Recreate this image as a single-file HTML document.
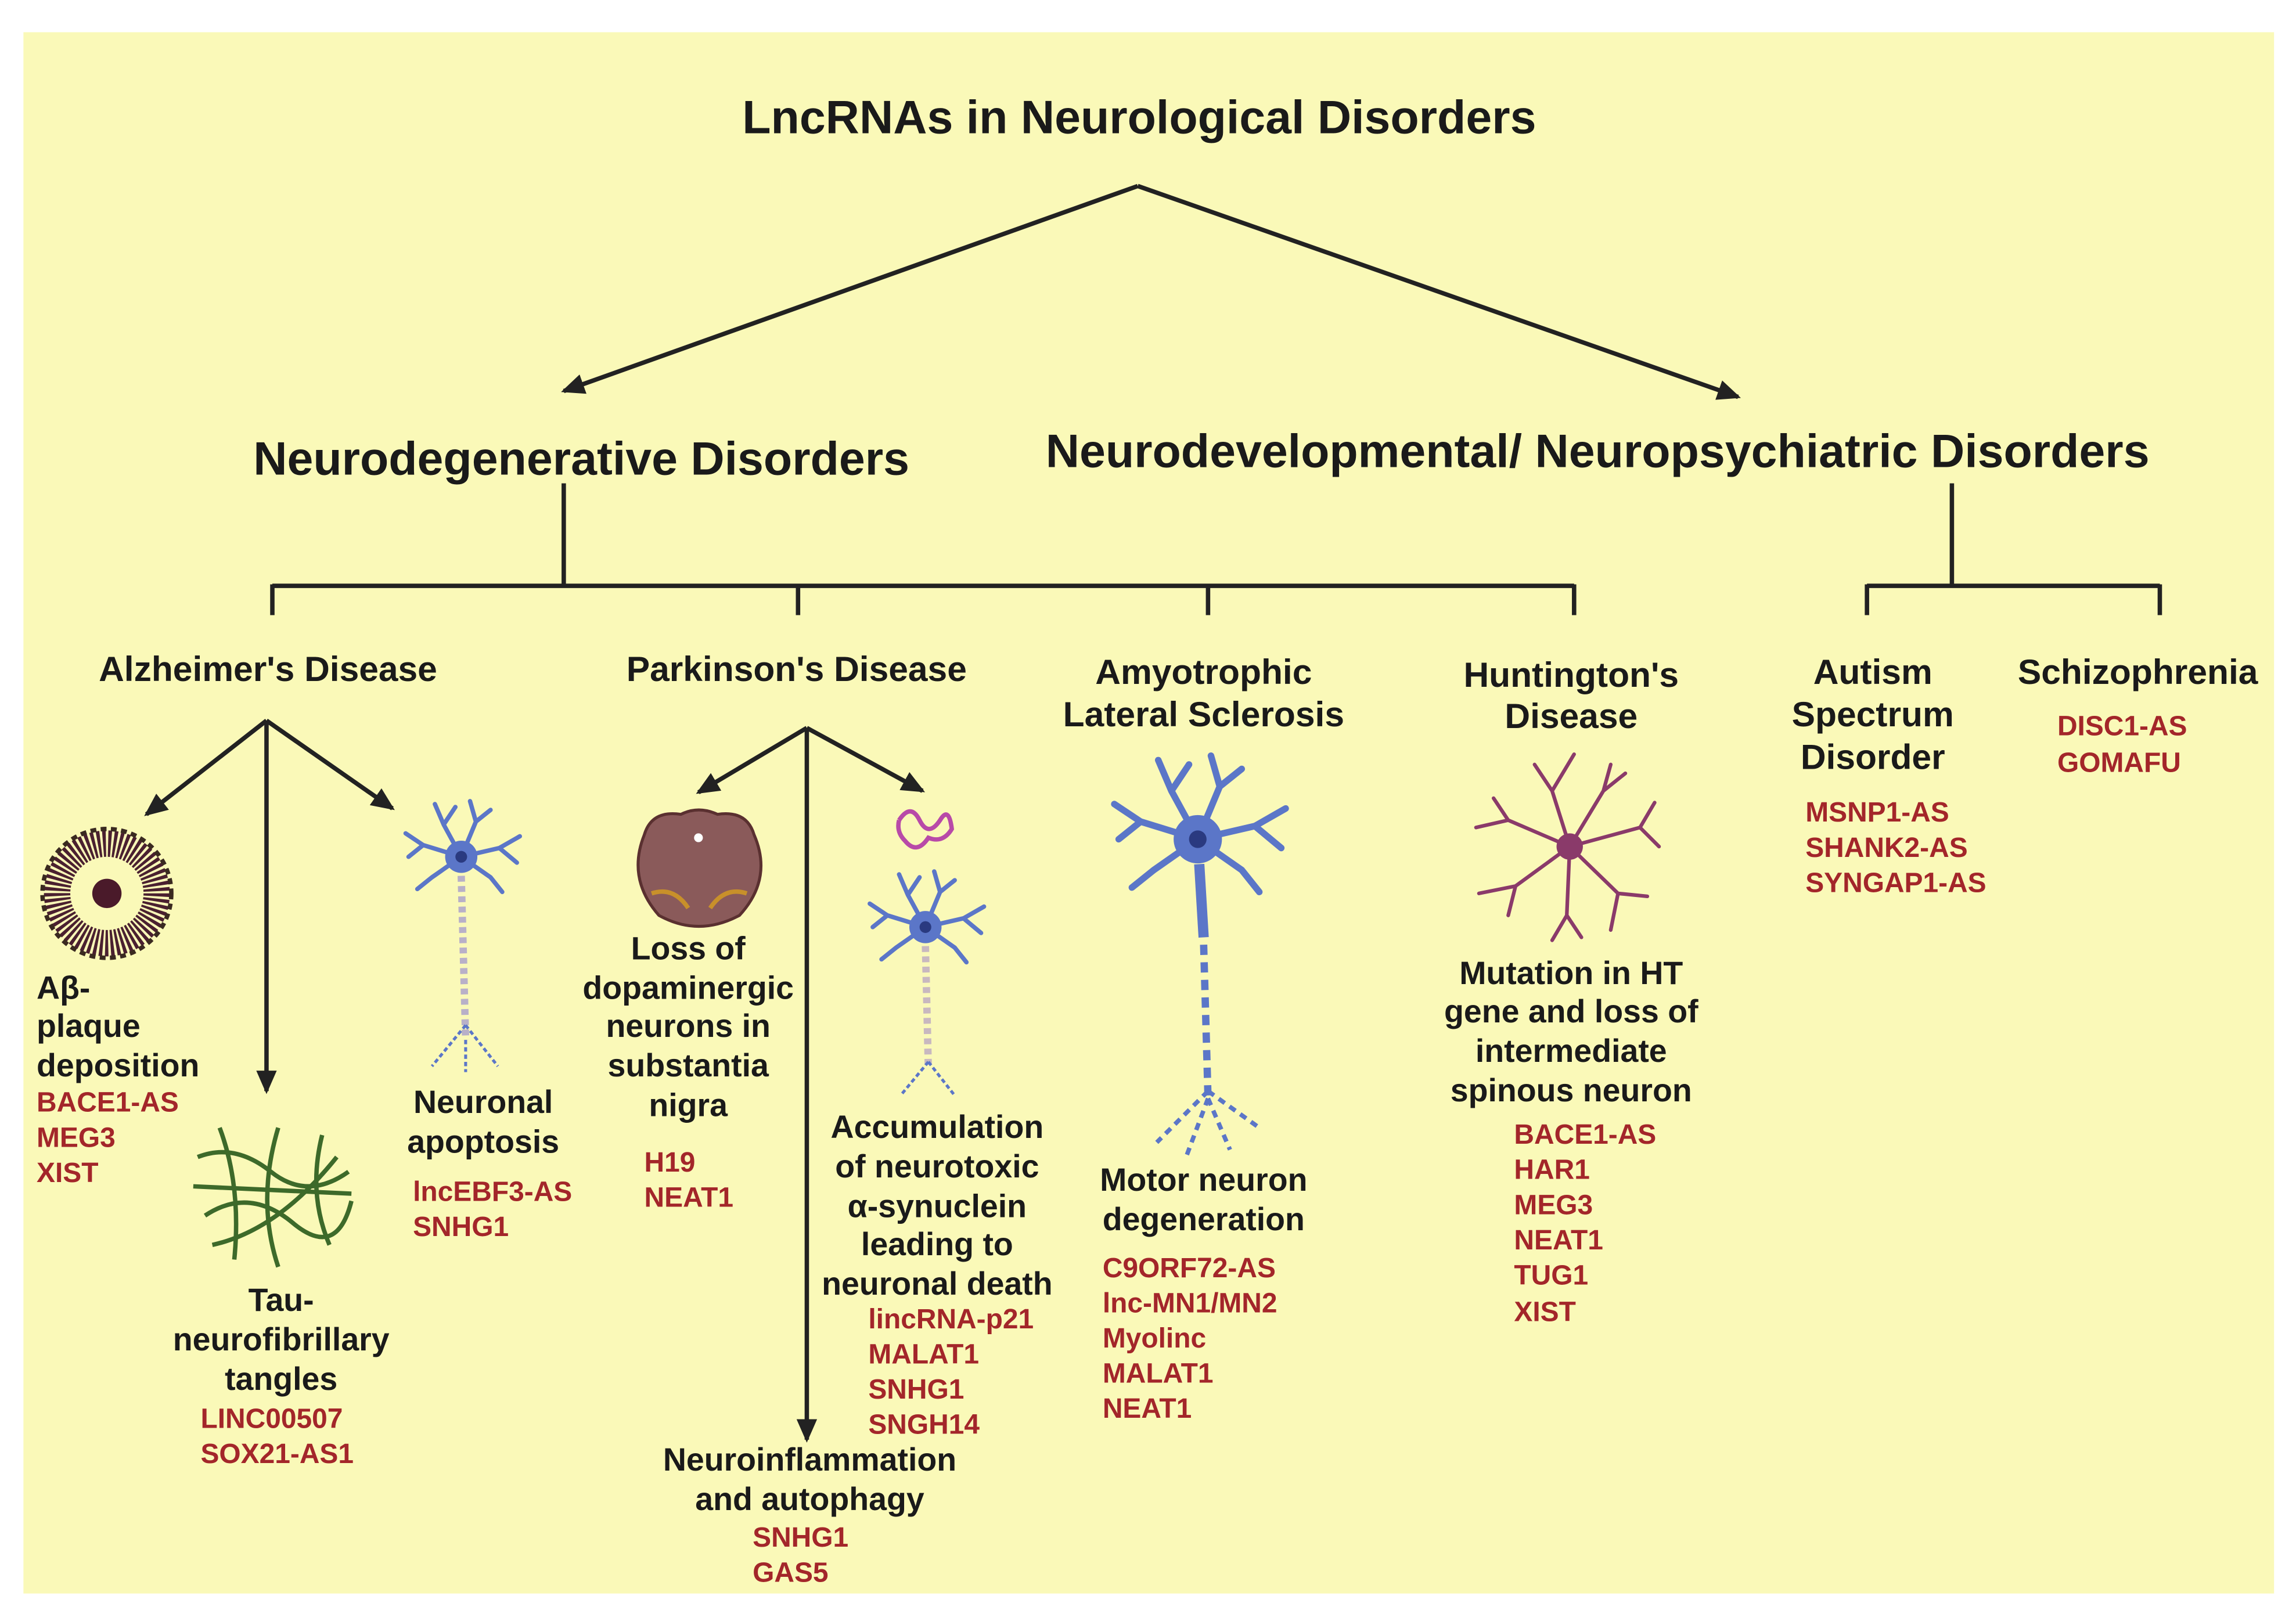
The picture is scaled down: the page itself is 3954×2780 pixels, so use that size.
<!DOCTYPE html>
<html><head><meta charset="utf-8"><style>
html,body{margin:0;padding:0;background:#fff;}
svg{display:block;}
text{font-family:"Liberation Sans",sans-serif;font-weight:bold;}
.h{font-size:22px;fill:#1a1a1a;text-anchor:middle;}
.d{font-size:24px;fill:#1a1a1a;text-anchor:middle;}
.r{font-size:19px;fill:#a3262a;}
.t{font-size:22px;fill:#1a1a1a;}
</style></head><body>
<svg width="3954" height="2780" viewBox="0 0 1568 1102" preserveAspectRatio="none" xmlns="http://www.w3.org/2000/svg">
<defs>
<marker id="b" markerWidth="16" markerHeight="14" refX="14" refY="7" orient="auto" markerUnits="userSpaceOnUse"><path d="M0,0 L16,7 L0,14 Z" fill="#222"/></marker>
<g id="neuron">
<g stroke="#5b76c8" stroke-width="3" fill="none" stroke-linecap="round">
<path d="M0,0 L-12,-22 L-18,-36 M-12,-22 L-4,-34"/>
<path d="M0,0 L10,-24 L6,-38 M10,-24 L20,-32"/>
<path d="M0,0 L-26,-8 L-38,-16 M-26,-8 L-36,0"/>
<path d="M0,0 L26,-6 L40,-14 M26,-6 L38,4"/>
<path d="M0,0 L-20,14 L-30,22"/><path d="M0,0 L20,14 L28,24"/>
</g>
<circle r="11" fill="#5b76c8"/><circle r="4" fill="#2a3a80"/>
</g>
</defs>
<rect x="16" y="22" width="1537" height="1066" fill="#faf9b8"/>

<text x="778" y="91" style="font-size:32px" text-anchor="middle" fill="#1a1a1a">LncRNAs in Neurological Disorders</text>
<g stroke="#222" stroke-width="3" fill="none">
<line x1="777" y1="127" x2="385" y2="267" marker-end="url(#b)"/>
<line x1="777" y1="127" x2="1187" y2="271" marker-end="url(#b)"/>
<line x1="385" y1="330" x2="385" y2="400"/>
<line x1="186" y1="400" x2="1075" y2="400"/>
<line x1="186" y1="399" x2="186" y2="420"/><line x1="545" y1="399" x2="545" y2="420"/>
<line x1="825" y1="399" x2="825" y2="420"/><line x1="1075" y1="399" x2="1075" y2="420"/>
<line x1="1333" y1="330" x2="1333" y2="400"/>
<line x1="1275" y1="400" x2="1475" y2="400"/>
<line x1="1275" y1="399" x2="1275" y2="420"/><line x1="1475" y1="399" x2="1475" y2="420"/>
<line x1="182" y1="492" x2="100" y2="556" marker-end="url(#b)"/>
<line x1="182" y1="492" x2="182" y2="745" marker-end="url(#b)"/>
<line x1="182" y1="492" x2="268" y2="552" marker-end="url(#b)"/>
<line x1="551" y1="497" x2="477" y2="541" marker-end="url(#b)"/>
<line x1="551" y1="497" x2="630" y2="540" marker-end="url(#b)"/>
<line x1="551" y1="497" x2="551" y2="983" marker-end="url(#b)"/>
</g>
<text x="397" y="324" style="font-size:32px" text-anchor="middle" fill="#1a1a1a">Neurodegenerative Disorders</text>
<text x="1091" y="319" style="font-size:32px" text-anchor="middle" fill="#1a1a1a">Neurodevelopmental/ Neuropsychiatric Disorders</text>

<text class="d" x="183" y="465">Alzheimer's Disease</text>
<text class="d" x="544" y="465">Parkinson's Disease</text>
<text class="d" x="822" y="467">Amyotrophic</text><text class="d" x="822" y="496">Lateral Sclerosis</text>
<text class="d" x="1073" y="469">Huntington's</text><text class="d" x="1073" y="497">Disease</text>
<text class="d" x="1279" y="467">Autism</text><text class="d" x="1279" y="496">Spectrum</text><text class="d" x="1279" y="525">Disorder</text>
<text class="d" x="1460" y="467">Schizophrenia</text>
<text class="r" x="1405" y="502">DISC1-AS</text><text class="r" x="1405" y="527">GOMAFU</text>
<text class="r" x="1233" y="561">MSNP1-AS</text><text class="r" x="1233" y="585">SHANK2-AS</text><text class="r" x="1233" y="609">SYNGAP1-AS</text>

<!-- plaque -->
<circle cx="73" cy="610" r="34" fill="none" stroke="#4a2030" stroke-width="18" stroke-dasharray="2 1.5"/>
<circle cx="73" cy="610" r="44" fill="none" stroke="#3a2a20" stroke-width="3" stroke-dasharray="4 3"/>
<circle cx="73" cy="610" r="10" fill="#4a1a2a"/>
<text class="t" x="25" y="682">Aβ-</text><text class="t" x="25" y="708">plaque</text><text class="t" x="25" y="735">deposition</text>
<text class="r" x="25" y="759">BACE1-AS</text><text class="r" x="25" y="783">MEG3</text><text class="r" x="25" y="807">XIST</text>
<!-- tangles -->
<g stroke="#3d6a2a" stroke-width="3" fill="none">
<path d="M135,790 Q160,780 185,800 T238,800"/><path d="M140,830 Q170,810 200,835 T240,820"/>
<path d="M150,770 Q165,810 160,860"/><path d="M190,770 Q175,820 190,865"/><path d="M220,775 Q210,815 225,850"/>
<path d="M132,810 L240,815"/><path d="M145,850 Q190,840 230,790"/>
</g>
<text class="h" x="192" y="895">Tau-</text><text class="h" x="192" y="922">neurofibrillary</text><text class="h" x="192" y="949">tangles</text>
<text class="r" x="137" y="975">LINC00507</text><text class="r" x="137" y="999">SOX21-AS1</text>
<!-- neuron AD -->
<use href="#neuron" x="315" y="585"/>
<line x1="315" y1="598" x2="318" y2="710" stroke="#b8b0c8" stroke-width="5" stroke-dasharray="4 3"/>
<path d="M318,700 L295,728 M318,700 L340,728 M318,710 L318,732" stroke="#5b76c8" stroke-width="2" stroke-dasharray="3 2" fill="none"/>
<text class="h" x="330" y="760">Neuronal</text><text class="h" x="330" y="787">apoptosis</text>
<text class="r" x="282" y="820">lncEBF3-AS</text><text class="r" x="282" y="844">SNHG1</text>

<!-- brain section -->
<path d="M440,570 Q445,553 465,556 Q477,550 490,556 Q510,553 515,570 Q528,600 505,625 Q477,640 450,625 Q428,600 440,570Z" fill="#8a5a5a" stroke="#5a3030" stroke-width="2"/>
<path d="M445,610 Q460,605 470,620 M510,610 Q495,605 485,620" stroke="#c8902a" stroke-width="3" fill="none"/>
<circle cx="477" cy="572" r="3" fill="#fff"/>
<text class="h" x="470" y="655">Loss of</text><text class="h" x="470" y="682">dopaminergic</text><text class="h" x="470" y="708">neurons in</text><text class="h" x="470" y="735">substantia</text><text class="h" x="470" y="762">nigra</text>
<text class="r" x="440" y="800">H19</text><text class="r" x="440" y="824">NEAT1</text>
<!-- synuclein + neuron -->
<path d="M614,560 q8,-12 14,0 q6,12 14,0 q6,-10 8,6 q-6,10 -16,6 q-8,12 -16,2 q-6,-6 -4,-14" stroke="#b84aa8" stroke-width="3" fill="none"/>
<use href="#neuron" x="632" y="633"/>
<line x1="632" y1="646" x2="634" y2="730" stroke="#c8b8c0" stroke-width="5" stroke-dasharray="4 3"/>
<path d="M634,725 L615,748 M634,725 L652,748" stroke="#5b76c8" stroke-width="2" stroke-dasharray="3 2" fill="none"/>
<text class="h" x="640" y="777">Accumulation</text><text class="h" x="640" y="804">of neurotoxic</text><text class="h" x="640" y="831">α-synuclein</text><text class="h" x="640" y="857">leading to</text><text class="h" x="640" y="884">neuronal death</text>
<text class="r" x="593" y="907">lincRNA-p21</text><text class="r" x="593" y="931">MALAT1</text><text class="r" x="593" y="955">SNHG1</text><text class="r" x="593" y="979">SNGH14</text>
<text class="h" x="553" y="1004">Neuroinflammation</text><text class="h" x="553" y="1031">and autophagy</text>
<text class="r" x="514" y="1056">SNHG1</text><text class="r" x="514" y="1080">GAS5</text>

<!-- ALS neuron -->
<g transform="translate(818,573) scale(1.5)"><use href="#neuron"/></g>
<path d="M819,590 L822,640" stroke="#5b76c8" stroke-width="7"/>
<path d="M822,645 L825,750" stroke="#5b76c8" stroke-width="5" stroke-dasharray="7 5"/>
<path d="M825,745 L790,780 M825,745 L860,770 M825,750 L810,790 M825,750 L840,785" stroke="#5b76c8" stroke-width="3" stroke-dasharray="5 4" fill="none"/>
<text class="h" x="822" y="813">Motor neuron</text><text class="h" x="822" y="840">degeneration</text>
<text class="r" x="753" y="872">C9ORF72-AS</text><text class="r" x="753" y="896">lnc-MN1/MN2</text><text class="r" x="753" y="920">Myolinc</text><text class="r" x="753" y="944">MALAT1</text><text class="r" x="753" y="968">NEAT1</text>

<!-- HD neuron -->
<g stroke="#8a3a6a" stroke-width="2.5" fill="none" stroke-linecap="round">
<path d="M1072,578 L1060,540 L1048,522 M1060,540 L1075,515"/>
<path d="M1072,578 L1095,540 L1110,528 M1095,540 L1100,522"/>
<path d="M1072,578 L1030,560 L1008,565 M1030,560 L1020,545"/>
<path d="M1072,578 L1120,565 L1130,548 M1120,565 L1133,578"/>
<path d="M1072,578 L1035,605 L1010,610 M1035,605 L1030,625"/>
<path d="M1072,578 L1105,610 L1125,612 M1105,610 L1100,635"/>
<path d="M1072,578 L1070,625 L1060,642 M1070,625 L1080,640"/>
</g>
<circle cx="1072" cy="578" r="9" fill="#8a3a6a"/>
<text class="h" x="1073" y="672">Mutation in HT</text><text class="h" x="1073" y="698">gene and loss of</text><text class="h" x="1073" y="725">intermediate</text><text class="h" x="1073" y="752">spinous neuron</text>
<text class="r" x="1034" y="781">BACE1-AS</text><text class="r" x="1034" y="805">HAR1</text><text class="r" x="1034" y="829">MEG3</text><text class="r" x="1034" y="853">NEAT1</text><text class="r" x="1034" y="877">TUG1</text><text class="r" x="1034" y="902">XIST</text>
</svg>
</body></html>
